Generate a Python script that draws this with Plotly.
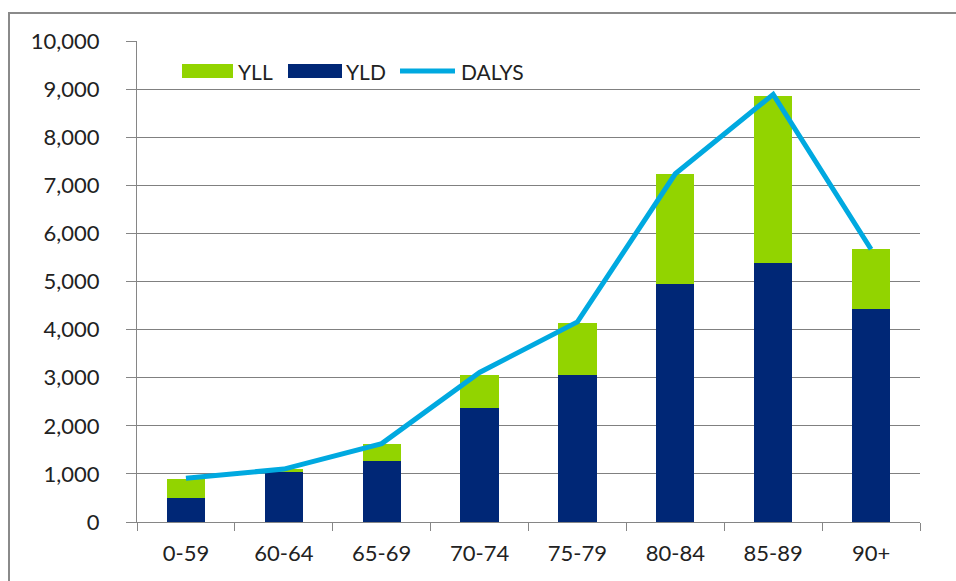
import plotly.graph_objects as go

categories = ["0-59", "60-64", "65-69", "70-74", "75-79", "80-84", "85-89", "90+"]
yld = [490, 1045, 1275, 2365, 3055, 4940, 5390, 4435]
yll = [405, 55, 340, 690, 1090, 2290, 3465, 1245]
dalys = [910, 1100, 1630, 3110, 4160, 7240, 8890, 5670]
y_ticks = [0, 1000, 2000, 3000, 4000, 5000, 6000, 7000, 8000, 9000, 10000]

C_YLD, C_YLL, C_DALYS = "#002776", "#92D400", "#00A9E0"
FONT = "Lato, 'Open Sans', sans-serif"
ML, MR, MT, MB = 137, 36, 41, 59
W, H = 956, 581
pw, ph = W - ML - MR, H - MT - MB


def px(x):
    return (x - ML) / pw


def py(y):
    return (522 - y) / ph


fig = go.Figure()
fig.add_trace(go.Bar(x=categories, y=yld, name="YLD", marker=dict(color=C_YLD, line=dict(width=0))))
fig.add_trace(go.Bar(x=categories, y=yll, name="YLL", marker=dict(color=C_YLL, line=dict(width=0))))
fig.add_trace(go.Scatter(x=categories, y=dalys, name="DALYS", mode="lines",
                         line=dict(color=C_DALYS, width=5)))

shapes = [
    dict(type="rect", xref="paper", yref="paper", x0=px(9), x1=px(W + 10), y0=py(H + 10), y1=py(13),
         line=dict(color="#8a8a8a", width=2), fillcolor="rgba(0,0,0,0)", layer="below"),
    # custom legend swatches
    dict(type="rect", xref="paper", yref="paper", x0=px(182), x1=px(233), y0=py(78), y1=py(64),
         line=dict(width=0), fillcolor=C_YLL),
    dict(type="rect", xref="paper", yref="paper", x0=px(288), x1=px(342), y0=py(78), y1=py(64),
         line=dict(width=0), fillcolor=C_YLD),
    dict(type="line", xref="paper", yref="paper", x0=px(400), x1=px(455), y0=py(71), y1=py(71),
         line=dict(color=C_DALYS, width=5)),
]
annotations = [
    dict(text=t, xref="paper", yref="paper", x=px(xx), y=py(72), xanchor="left", yanchor="middle",
         showarrow=False, font=dict(size=21, color="#222222", family=FONT))
    for t, xx in [("YLL", 236), ("YLD", 344), ("DALYS", 459)]
]

fig.update_layout(
    width=W, height=H,
    margin=dict(l=ML, r=MR, t=MT, b=MB),
    barmode="stack", bargap=0.61,
    plot_bgcolor="white", paper_bgcolor="white",
    font=dict(family=FONT, size=22, color="#222222"),
    showlegend=False,
    xaxis=dict(type="category", showgrid=False, showline=True, linecolor="#868686", linewidth=1,
               ticks="outside", tickson="boundaries", ticklen=8, tickcolor="#868686",
               tickfont=dict(size=22), ticklabelstandoff=12, fixedrange=True),
    yaxis=dict(range=[0, 10000], tickvals=y_ticks, tickformat=",d", showgrid=True,
               gridcolor="#808080", gridwidth=1, showline=True, linecolor="#868686", linewidth=1,
               ticks="outside", ticklen=10, tickcolor="#868686", zeroline=False,
               tickfont=dict(size=22), ticklabelstandoff=22),
    shapes=shapes,
    annotations=annotations,
)

fig.write_html("out.html")
